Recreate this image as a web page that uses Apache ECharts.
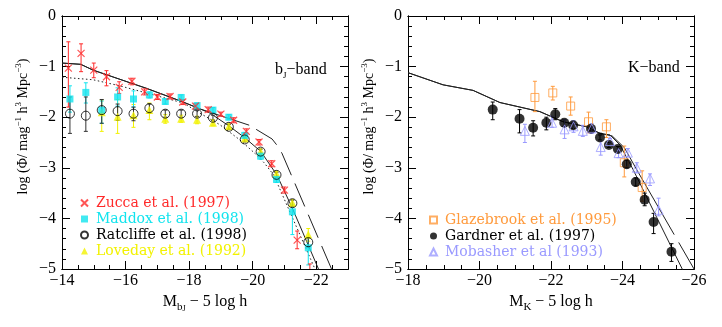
<!DOCTYPE html>
<html style="height: 100%">
<head>
    <meta charset="utf-8">
    <script src="https://cdn.jsdelivr.net/npm/echarts@6/dist/echarts.min.js"></script>
</head>
<body style="height: 100%; margin: 0; background: #fff">
    <div id="main" style="width: 722px; height: 327px;"></div>
    <script type="text/javascript">
    // ---- bJ band (left panel): magnitude, log phi, error bar top / bottom
    var zuccaM = [-14.2, -14.6, -15.0, -15.4, -15.8, -16.2, -16.6, -17.0, -17.4, -17.8, -18.2, -18.6, -19.0, -19.4, -19.8, -20.2, -20.6, -21.0, -21.4, -21.8];
    var zuccaPhi = [-1.03, -0.74, -1.07, -1.2, -1.41, -1.29, -1.5, -1.6, -1.59, -1.7, -1.78, -1.85, -1.94, -2.06, -2.28, -2.49, -2.92, -3.44, -4.43, -5.3];
    var zuccaHi = [-0.51, -0.55, -0.93, -1.08, -1.3, -1.23, -1.44, -1.55, -1.54, -1.65, -1.73, -1.8, -1.9, -2.01, -2.23, -2.44, -2.86, -3.38, -4.25, -4.9];
    var zuccaLo = [-1.8, -1.1, -1.22, -1.38, -1.53, -1.36, -1.56, -1.65, -1.64, -1.75, -1.83, -1.9, -1.98, -2.11, -2.33, -2.55, -2.98, -3.5, -4.6, -5.8];

    var maddoxM = [-14.25, -14.75, -15.25, -15.75, -16.25, -16.75, -17.25, -17.75, -18.25, -18.75, -19.25, -19.75, -20.25, -20.75, -21.25, -21.75];
    var maddoxPhi = [-1.64, -1.51, -1.86, -1.6, -1.64, -1.56, -1.69, -1.61, -1.77, -1.86, -2.0, -2.36, -2.77, -3.23, -3.87, -4.58];
    var maddoxHi = [-1.38, -1.32, -1.68, -1.42, -1.48, -1.5, -1.64, -1.56, -1.72, -1.81, -1.95, -2.3, -2.71, -3.17, -3.72, -4.38];
    var maddoxLo = [-1.9, -1.72, -2.12, -1.78, -1.8, -1.62, -1.74, -1.66, -1.82, -1.91, -2.05, -2.42, -2.83, -3.29, -4.32, -4.92];

    var ratcliffeM = [-14.25, -14.75, -15.25, -15.75, -16.25, -16.75, -17.25, -17.75, -18.25, -18.75, -19.25, -19.75, -20.25, -20.75, -21.25, -21.75];
    var ratcliffePhi = [-1.93, -1.97, -1.86, -1.88, -1.93, -1.82, -1.93, -1.93, -1.93, -2.01, -2.19, -2.44, -2.68, -3.14, -3.7, -4.47];
    var ratcliffeHi = [-1.6, -1.6, -1.65, -1.74, -1.8, -1.74, -1.86, -1.86, -1.87, -1.96, -2.14, -2.39, -2.63, -3.09, -3.64, -4.38];
    var ratcliffeLo = [-2.32, -2.28, -2.12, -2.06, -2.07, -1.92, -2.0, -2.0, -1.99, -2.06, -2.24, -2.49, -2.73, -3.19, -3.76, -4.57];

    var lovedayM = [-15.25, -15.75, -16.25, -16.75, -17.25, -17.75, -18.25, -18.75, -19.25, -19.75, -20.25, -20.75, -21.25, -21.75];
    var lovedayPhi = [-1.9, -1.99, -1.96, -1.86, -2.03, -2.03, -2.05, -2.11, -2.18, -2.42, -2.68, -3.12, -3.69, -4.32];
    var lovedayHi = [-1.66, -1.65, -1.75, -1.72, -1.95, -1.96, -1.98, -2.05, -2.13, -2.37, -2.63, -3.07, -3.63, -4.2];
    var lovedayLo = [-2.28, -2.32, -2.2, -2.05, -2.12, -2.1, -2.13, -2.17, -2.23, -2.47, -2.73, -3.17, -3.75, -4.45];

    // model curves, bJ
    var bjSolidM = [-14, -14.59, -14.98, -16.19, -16.66, -17.77, -18.36, -18.66, -19.27, -19.76, -20.26, -20.76, -21.25, -22.14];
    var bjSolidPhi = [-0.93, -0.955, -1.07, -1.33, -1.43, -1.69, -1.84, -1.92, -2.18, -2.41, -2.68, -3.14, -3.8, -5.1];
    var bjDashM = [-14, -14.59, -14.98, -16.19, -16.66, -17.77, -18.36, -19.9, -20.11, -20.61, -20.76, -20.92, -22.55];
    var bjDashPhi = [-0.93, -0.955, -1.07, -1.33, -1.43, -1.69, -1.84, -2.16, -2.24, -2.43, -2.55, -2.71, -5.1];
    var bjDotM = [-14, -14.98, -15.82, -16.77, -17.82, -18.34, -18.97, -19.6, -20.08, -20.36, -20.66, -22.03];
    var bjDotPhi = [-1.21, -1.26, -1.38, -1.54, -1.72, -1.92, -2.15, -2.45, -2.72, -2.9, -3.14, -5.1];

    // ---- K band (right panel)
    var gardnerM = [-20.37, -21.12, -21.5, -21.87, -22.12, -22.37, -22.62, -23.12, -23.37, -23.62, -23.87, -24.12, -24.37, -24.62, -24.87, -25.37];
    var gardnerPhi = [-1.85, -2.03, -2.21, -2.11, -1.94, -2.11, -2.16, -2.23, -2.4, -2.55, -2.63, -2.93, -3.28, -3.63, -4.07, -4.66];
    var gardnerHi = [-1.7, -1.85, -2.07, -2.0, -1.83, -2.05, -2.1, -2.19, -2.35, -2.5, -2.58, -2.85, -3.2, -3.5, -3.9, -4.5];
    var gardnerLo = [-2.05, -2.31, -2.37, -2.25, -2.05, -2.18, -2.22, -2.27, -2.45, -2.6, -2.68, -3.0, -3.36, -3.75, -4.3, -4.85];

    var glazeM = [-21.55, -22.05, -22.55, -23.05, -23.55, -24.05, -24.55];
    var glazePhi = [-1.61, -1.52, -1.78, -2.09, -2.19, -2.9, -3.39];
    var glazeHi = [-1.29, -1.39, -1.6, -1.9, -2.05, -2.57, -3.06];
    var glazeLo = [-1.89, -1.66, -1.96, -2.31, -2.4, -3.18, -3.66];

    var mobasherM = [-21.27, -22.03, -22.38, -22.63, -22.89, -23.14, -23.39, -23.65, -23.89, -24.15, -24.4, -24.77, -25.01];
    var mobasherPhi = [-2.27, -2.11, -2.24, -2.18, -2.27, -2.22, -2.59, -2.47, -2.71, -2.7, -3.0, -3.21, -3.83];
    var mobasherHi = [-2.14, -1.98, -2.05, -2.07, -2.16, -2.13, -2.47, -2.42, -2.62, -2.62, -2.9, -3.12, -3.6];
    var mobasherLo = [-2.5, -2.2, -2.42, -2.3, -2.38, -2.32, -2.75, -2.52, -2.8, -2.78, -3.1, -3.35, -3.95];

    // model curves, K
    var kSolidM = [-18, -18.98, -19.82, -20.57, -21.69, -22.34, -23.0, -23.37, -23.65, -23.93, -24.3, -25.72];
    var kSolidPhi = [-1.12, -1.36, -1.47, -1.71, -1.89, -2.09, -2.19, -2.32, -2.35, -2.55, -3.04, -5.07];
    var kDashM = [-18, -18.98, -19.82, -20.57, -21.69, -22.34, -23.0, -23.37, -23.71, -24.05, -24.4, -26.05];
    var kDashPhi = [-1.12, -1.36, -1.47, -1.71, -1.89, -2.09, -2.19, -2.32, -2.37, -2.6, -3.04, -5.06];

    var serif = 'Liberation Serif';
    var wide = 'DejaVu Serif';
    var RED = '#ff2a2a', CYAN = '#12e4ee', YEL = '#f2f200', ORANGE = '#ff9a3c', LBLUE = '#9a9aff';

    // magnitudes are plotted as positive numbers so the axis runs -14 -> -23 left to right
    function pts(m, phi) {
        return m.map(function (v, i) { return [-v, phi[i]]; });
    }
    function errs(m, hi, lo) {
        return m.map(function (v, i) { return [-v, hi[i], lo[i]]; });
    }

    function errorBar(params, api) {
        var x = api.value(0);
        var a = api.coord([x, api.value(1)]);
        var b = api.coord([x, api.value(2)]);
        var c = api.visual('color');
        var w = 2;
        var st = { stroke: c, lineWidth: 1 };
        return {
            type: 'group',
            children: [
                { type: 'line', shape: { x1: a[0], y1: a[1], x2: b[0], y2: b[1] }, style: st },
                { type: 'line', shape: { x1: a[0] - w, y1: a[1], x2: a[0] + w, y2: a[1] }, style: st },
                { type: 'line', shape: { x1: b[0] - w, y1: b[1], x2: b[0] + w, y2: b[1] }, style: st }
            ]
        };
    }

    function xAxes(grid, min, max, name) {
        var list = [];
        ['bottom', 'top'].forEach(function (pos) {
            [2, 0.5].forEach(function (step) {
                var main = step === 2 && pos === 'bottom';
                list.push({
                    type: 'value', gridIndex: grid, position: pos,
                    min: min, max: max, interval: step,
                    axisLine: { show: true, onZero: false, lineStyle: { color: '#000', width: 1 } },
                    axisTick: { show: true, inside: true, length: step === 2 ? 8 : 4, lineStyle: { color: '#000' } },
                    axisLabel: {
                        show: main, margin: 4, color: '#000', fontFamily: serif, fontSize: 16,
                        formatter: function (v) { return v % 2 === 0 ? '\u2212' + v : ''; }
                    },
                    splitLine: { show: false },
                    name: main ? name : '',
                    nameLocation: 'middle',
                    nameGap: 18,
                    nameTextStyle: {
                        color: '#000', fontFamily: serif, fontSize: 16,
                        rich: {
                            m: { fontFamily: serif, fontSize: 16, lineHeight: 22, color: '#000' },
                            s: { fontFamily: serif, fontSize: 11, lineHeight: 13, verticalAlign: 'bottom', color: '#000' },
                            ss: { fontFamily: serif, fontSize: 8, lineHeight: 8, verticalAlign: 'bottom', color: '#000' },
                            t: { fontFamily: serif, fontSize: 16, lineHeight: 22, color: '#000' }
                        }
                    }
                });
            });
        });
        return list;
    }

    function yAxes(grid) {
        var list = [];
        ['left', 'right'].forEach(function (pos) {
            [1, 0.2].forEach(function (step) {
                var main = step === 1 && pos === 'left';
                list.push({
                    type: 'value', gridIndex: grid, position: pos,
                    min: -5, max: 0, interval: step,
                    axisLine: { show: true, onZero: false, lineStyle: { color: '#000', width: 1 } },
                    axisTick: { show: true, inside: true, length: step === 1 ? 8 : 4, lineStyle: { color: '#000' } },
                    axisLabel: {
                        show: main, margin: 6, color: '#000', fontFamily: serif, fontSize: 16,
                        formatter: function (v) { return v === 0 ? '0' : '\u2212' + (-v); }
                    },
                    splitLine: { show: false },
                    name: main ? '{t|log (\u03A6/ mag}{u|\u22121}{t| h}{u|3}{t| Mpc}{u|\u22123}{t|)}' : '',
                    nameLocation: 'middle',
                    nameRotate: 90,
                    nameGap: 30,
                    nameTextStyle: {
                        color: '#000', fontFamily: serif, fontSize: 14,
                        padding: [0, 0, 0, 32],
                        rich: {
                            t: { fontFamily: serif, fontSize: 14, lineHeight: 18, color: '#000' },
                            u: { fontFamily: serif, fontSize: 9, lineHeight: 9, verticalAlign: 'top', color: '#000' }
                        }
                    }
                });
            });
        });
        return list;
    }

    function line(name, m, phi, xi, type) {
        return {
            name: name, type: 'line', xAxisIndex: xi, yAxisIndex: xi,
            data: pts(m, phi), symbol: 'none', smooth: false, z: 1,
            lineStyle: { color: '#222', width: 1, type: type }
        };
    }
    function errSeries(name, m, hi, lo, xi, color) {
        return {
            name: name, type: 'custom', xAxisIndex: xi, yAxisIndex: xi,
            data: errs(m, hi, lo), renderItem: errorBar, clip: true, z: 2,
            encode: { x: 0, y: [1, 2] },
            itemStyle: { color: color }
        };
    }
    function dots(name, m, phi, xi, symbol, size, style) {
        return {
            name: name, type: 'scatter', xAxisIndex: xi, yAxisIndex: xi,
            data: pts(m, phi), symbol: symbol, symbolSize: size, z: 3,
            itemStyle: style
        };
    }
    function legendItem(name, color) {
        return { name: name, textStyle: { color: color, fontFamily: wide, fontSize: 14, lineHeight: 16 } };
    }

    var cross = 'path://M0,0L10,10M10,0L0,10';
    var hollow = 'rgba(255,255,255,0)';
    var legendText = { fontFamily: wide, fontSize: 14, lineHeight: 16, padding: [0, 0, 0, 3] };

    var myChart = echarts.init(document.getElementById('main'), null, { renderer: 'canvas' });

    var option = {
        animation: false,
        backgroundColor: '#fff',
        grid: [
            { left: 62, top: 16, width: 286, height: 253 },
            { left: 408, top: 16, width: 286, height: 253 }
        ],
        title: [
            {
                text: '{t|b}{s|J}{t|\u2212band}', left: 270, top: 55,
                textStyle: {
                    fontWeight: 'normal',
                    rich: {
                        t: { fontFamily: serif, fontSize: 16, fontWeight: 'normal', lineHeight: 20, color: '#000' },
                        s: { fontFamily: serif, fontSize: 9, fontWeight: 'normal', lineHeight: 11, verticalAlign: 'bottom', color: '#000' }
                    }
                }
            },
            {
                text: 'K\u2212band', left: 623, top: 55,
                textStyle: { fontFamily: serif, fontSize: 16, fontWeight: 'normal', color: '#000' }
            }
        ],
        legend: [
            {
                orient: 'vertical', left: 80, top: 195, padding: 0, itemGap: 0,
                itemWidth: 7, itemHeight: 7, selectedMode: false,
                textStyle: legendText,
                data: [
                    legendItem('Zucca et al. (1997)', RED),
                    legendItem('Maddox et al. (1998)', CYAN),
                    legendItem('Ratcliffe et al. (1998)', '#000'),
                    legendItem('Loveday et al. (1992)', YEL)
                ]
            },
            {
                orient: 'vertical', left: 429, top: 212, padding: 0, itemGap: 0,
                itemWidth: 7, itemHeight: 7, selectedMode: false,
                textStyle: legendText,
                data: [
                    legendItem('Glazebrook et al. (1995)', ORANGE),
                    legendItem('Gardner et al. (1997)', '#000'),
                    legendItem('Mobasher et al (1993)', LBLUE)
                ]
            }
        ],
        xAxis: xAxes(0, 14, 23, '{m|M}{s|b}{ss|J}{t| \u2212 5 log h}')
            .concat(xAxes(1, 18, 26, '{m|M}{s|K}{t| \u2212 5 log h}')),
        yAxis: yAxes(0).concat(yAxes(1)),
        series: [
            line('bjSolid', bjSolidM, bjSolidPhi, 0, 'solid'),
            line('bjDash', bjDashM, bjDashPhi, 0, [198, 8, 26, 9, 25, 9, 25, 9, 25, 9, 25, 9, 25, 9]),
            line('bjDot', bjDotM, bjDotPhi, 0, [1.5, 2.5]),
            errSeries('lovedayErr', lovedayM, lovedayHi, lovedayLo, 0, YEL),
            errSeries('maddoxErr', maddoxM, maddoxHi, maddoxLo, 0, CYAN),
            errSeries('ratcliffeErr', ratcliffeM, ratcliffeHi, ratcliffeLo, 0, '#333'),
            errSeries('zuccaErr', zuccaM, zuccaHi, zuccaLo, 0, RED),
            dots('Loveday et al. (1992)', lovedayM, lovedayPhi, 0, 'triangle', 8, { color: YEL }),
            dots('Maddox et al. (1998)', maddoxM, maddoxPhi, 0, 'rect', 7, { color: CYAN }),
            dots('Ratcliffe et al. (1998)', ratcliffeM, ratcliffePhi, 0, 'circle', 9, { color: hollow, borderColor: '#000', borderWidth: 1 }),
            dots('Zucca et al. (1997)', zuccaM, zuccaPhi, 0, cross, 7, { color: hollow, borderColor: RED, borderWidth: 1.2 }),

            line('kSolid', kSolidM, kSolidPhi, 4, 'solid'),
            line('kDash', kDashM, kDashPhi, 4, [332, 9, 60]),
            errSeries('glazeErr', glazeM, glazeHi, glazeLo, 4, ORANGE),
            errSeries('gardnerErr', gardnerM, gardnerHi, gardnerLo, 4, '#000'),
            errSeries('mobasherErr', mobasherM, mobasherHi, mobasherLo, 4, LBLUE),
            dots('Glazebrook et al. (1995)', glazeM, glazePhi, 4, 'rect', 8, { color: hollow, borderColor: ORANGE, borderWidth: 1 }),
            dots('Gardner et al. (1997)', gardnerM, gardnerPhi, 4, 'circle', 10, { color: '#000' }),
            dots('Mobasher et al (1993)', mobasherM, mobasherPhi, 4, 'triangle', 9, { color: hollow, borderColor: LBLUE, borderWidth: 1 })
        ]
    };
    myChart.setOption(option);
    </script>
</body>
</html>
